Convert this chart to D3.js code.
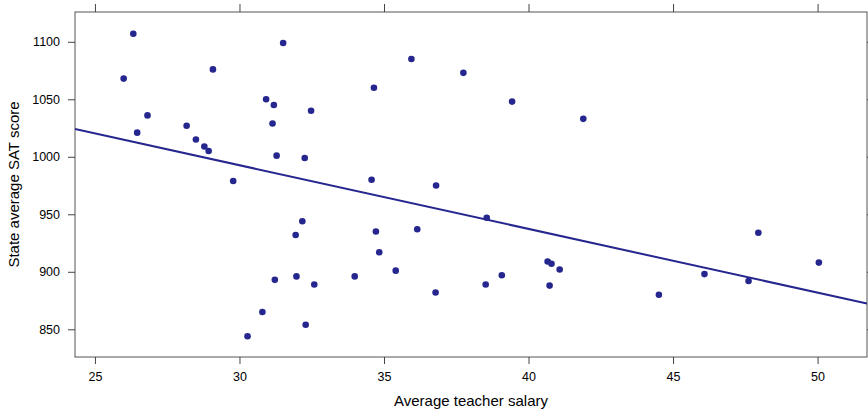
<!DOCTYPE html>
<html lang="en">
<head>
<meta charset="utf-8">
<title>SAT vs salary</title>
<script src="https://d3js.org/d3.v7.min.js"></script>
<style>
  body { margin: 0; background: #fff; }
  text { font-family: "Liberation Sans", Arial, Helvetica, sans-serif; fill: #000; }
</style>
</head>
<body>
<script>
// Average teacher salary (thousands) and state average SAT score, one per state
var salary = [31.144, 47.951, 32.175, 28.934, 41.078, 34.571, 50.045, 39.076, 32.588, 32.291,
              38.518, 29.783, 39.431, 36.785, 31.511, 34.652, 32.257, 26.461, 31.972, 40.661,
              40.795, 41.895, 35.948, 26.818, 31.189, 28.785, 30.922, 34.836, 34.720, 46.087,
              28.493, 47.612, 30.793, 26.327, 36.802, 28.172, 38.555, 44.510, 40.729, 30.279,
              25.994, 32.477, 31.223, 29.082, 35.406, 33.987, 36.151, 31.944, 37.746, 31.285];
var sat = [1029, 934, 944, 1005, 902, 980, 908, 897, 889, 854,
           889, 979, 1048, 882, 1099, 1060, 999, 1021, 896, 909,
           907, 1033, 1085, 1036, 1045, 1009, 1050, 917, 935, 898,
           1015, 892, 865, 1107, 975, 1027, 947, 880, 888, 844,
           1068, 1040, 893, 1076, 901, 896, 937, 932, 1073, 1001];
var xTicks = [25, 30, 35, 40, 45, 50];
var yTicks = [850, 900, 950, 1000, 1050, 1100];

var w = 868, h = 409;
var pL = 75, pR = 867, pT = 12, pB = 357;
var col = "#26268f";

var svg = d3.select("body").append("svg")
    .attr("width", w)
    .attr("height", h);

var x = d3.scaleLinear().domain([24.31, 51.71]).range([pL, pR]);
var y = d3.scaleLinear().domain([825.9, 1125.9]).range([pB, pT]);

// least squares fit
var mx = d3.mean(salary), my = d3.mean(sat);
var sxy = 0, sxx = 0;
salary.forEach(function(s, i) {
  sxy += (s - mx) * (sat[i] - my);
  sxx += (s - mx) * (s - mx);
});
var slope = sxy / sxx;
var icpt = my - slope * mx;

// frame
svg.append("rect")
   .attr("x", pL).attr("y", pT)
   .attr("width", pR - pL).attr("height", pB - pT)
   .attr("fill", "none")
   .attr("stroke", "#555")
   .attr("stroke-width", 1);

// axes
svg.append("g")
   .attr("transform", "translate(0," + pB + ")")
   .call(d3.axisBottom(x).tickValues(xTicks).tickSize(7).tickPadding(8))
   .call(function(g) { g.select(".domain").remove(); });
svg.append("g")
   .attr("transform", "translate(0," + pT + ")")
   .call(d3.axisTop(x).tickValues(xTicks).tickSize(8).tickFormat(""))
   .call(function(g) { g.select(".domain").remove(); });
svg.append("g")
   .attr("transform", "translate(" + pL + ",0)")
   .call(d3.axisLeft(y).tickValues(yTicks).tickSize(7).tickPadding(8).tickFormat(d3.format("d")))
   .call(function(g) { g.select(".domain").remove(); });
svg.append("g")
   .attr("transform", "translate(" + pR + ",0)")
   .call(d3.axisRight(y).tickValues(yTicks).tickSize(8).tickFormat(""))
   .call(function(g) { g.select(".domain").remove(); });

svg.selectAll(".tick line").attr("stroke", "#444");
svg.selectAll(".tick text").style("font-size", "12.5px").attr("fill", "#000");

// regression line
svg.append("clipPath").attr("id", "plotclip")
   .append("rect")
   .attr("x", pL).attr("y", pT)
   .attr("width", pR - pL).attr("height", pB - pT);

var xd = x.domain();
svg.append("line")
   .attr("clip-path", "url(#plotclip)")
   .attr("x1", x(xd[0])).attr("y1", y(icpt + slope * xd[0]))
   .attr("x2", x(xd[1])).attr("y2", y(icpt + slope * xd[1]))
   .attr("stroke", col)
   .attr("stroke-width", 2);

// points
svg.selectAll("circle")
   .data(salary)
   .enter()
   .append("circle")
   .attr("cx", function(d) { return x(d); })
   .attr("cy", function(d, i) { return y(sat[i]); })
   .attr("r", 3.3)
   .attr("fill", col);

// titles
svg.append("text")
   .attr("x", (pL + pR) / 2)
   .attr("y", 406)
   .attr("text-anchor", "middle")
   .style("font-size", "15px")
   .text("Average teacher salary");

svg.append("text")
   .attr("transform", "translate(19," + ((pT + pB) / 2) + ") rotate(-90)")
   .attr("text-anchor", "middle")
   .style("font-size", "15px")
   .text("State average SAT score");
</script>
</body>
</html>
